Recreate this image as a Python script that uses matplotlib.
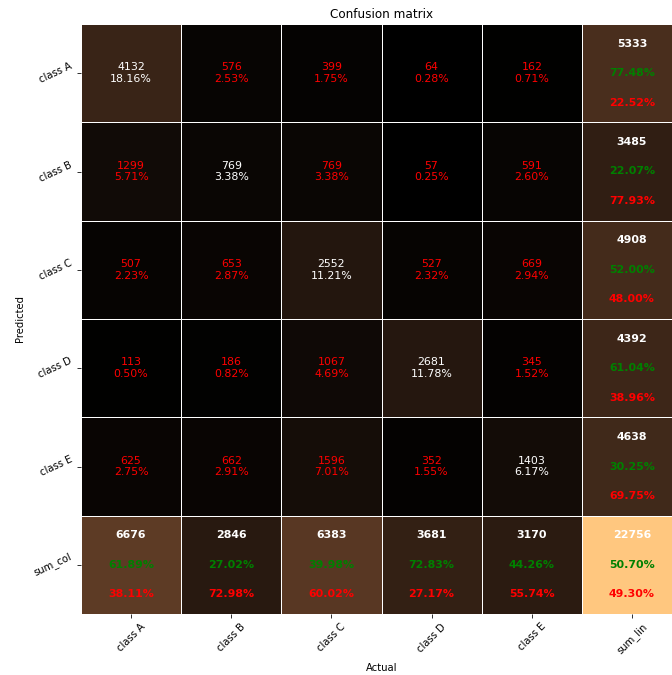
import numpy as np
import matplotlib
matplotlib.use("Agg")
import matplotlib.pyplot as plt
import seaborn as sns

# Class names and confusion counts (rows = predicted, columns = actual)
classes = ["class A", "class B", "class C", "class D", "class E"]
row_class_a = [4132, 576, 399, 64, 162]
row_class_b = [1299, 769, 769, 57, 591]
row_class_c = [507, 653, 2552, 527, 669]
row_class_d = [113, 186, 1067, 2681, 345]
row_class_e = [625, 662, 1596, 352, 1403]
x_tick_labels = classes + ["sum_lin"]
y_tick_labels = classes + ["sum_col"]

counts = np.array([row_class_a, row_class_b, row_class_c, row_class_d, row_class_e])
n = counts.shape[0]

# Append row totals (last column) and column totals (last row)
full = np.zeros((n + 1, n + 1), dtype=int)
full[:n, :n] = counts
full[:n, n] = counts.sum(axis=1)
full[n, :n] = counts.sum(axis=0)
full[n, n] = counts.sum()
total = full[n, n]

fig = plt.figure(figsize=(672 / 72, 675 / 72), dpi=72)
ax = fig.add_axes([81 / 672, 61 / 675, 601 / 672, 590 / 675])

sns.heatmap(full, ax=ax, cmap="copper", vmin=0, vmax=total, cbar=False,
            linewidths=0.5, linecolor="w", square=False)

fz = 11
for i in range(n + 1):
    for j in range(n + 1):
        val = full[i, j]
        cx, cy = j + 0.5, i + 0.5
        if i == n or j == n:
            if i == n and j == n:
                ok = np.trace(counts)
            elif j == n:
                ok = counts[i, i]
            else:
                ok = counts[j, j]
            per_ok = ok / val * 100 if val else 0
            per_err = 100 - per_ok
            ok_s = "100%" if per_ok == 100 else "%.2f%%" % per_ok
            kw = dict(ha="center", va="center", fontsize=fz, fontweight="bold")
            ax.text(cx, cy - 0.3, "%d" % val, color="w", **kw)
            ax.text(cx, cy, ok_s, color="g", **kw)
            ax.text(cx, cy + 0.3, "%.2f%%" % per_err, color="r", **kw)
        else:
            per = val / total * 100
            color = "w" if i == j else "r"
            ax.text(cx, cy, "%d\n%.2f%%" % (val, per), ha="center", va="center",
                    fontsize=fz, color=color)

ax.set_xticks(np.arange(n + 1) + 0.5)
ax.set_yticks(np.arange(n + 1) + 0.5)
ax.set_xticklabels(x_tick_labels, rotation=45, fontsize=10)
ax.set_yticklabels(y_tick_labels, rotation=25, fontsize=10)
ax.tick_params(length=4)
ax.set_title("Confusion matrix", fontsize=12)
ax.set_xlabel("Actual", fontsize=10, labelpad=7)
ax.set_ylabel("Predicted", fontsize=10, labelpad=7)

fig.savefig("out.png", dpi=72)
